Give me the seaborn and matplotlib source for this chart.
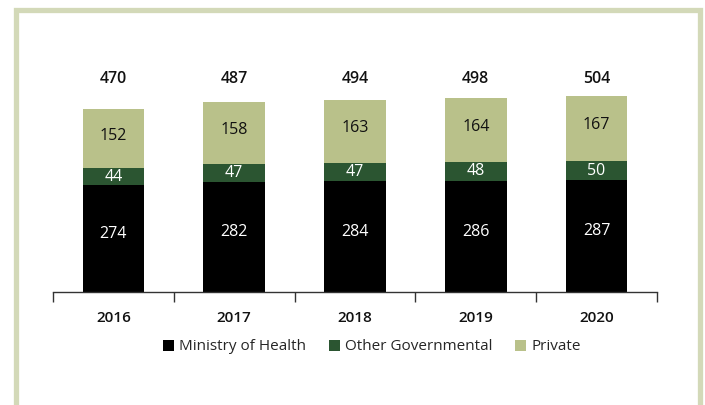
import matplotlib
matplotlib.use("Agg")
import matplotlib.pyplot as plt
from matplotlib.patches import Rectangle, Patch
from matplotlib.transforms import blended_transform_factory
import seaborn as sns
import pandas as pd
import numpy as np

years = ["2016", "2017", "2018", "2019", "2020"]
ministry = [274, 282, 284, 286, 287]
other_gov = [44, 47, 47, 48, 50]
private = [152, 158, 163, 164, 167]
totals = [470, 487, 494, 498, 504]

series_names = ["Ministry of Health", "Other Governmental", "Private"]
colors = ["#000000", "#2b5531", "#b9c18a"]
frame_color = "#d3d9b8"

sns.set_theme(style="white")
plt.rcParams["font.family"] = ["Open Sans", "DejaVu Sans"]

df = pd.DataFrame({
    "year": years,
    "ministry": ministry,
    "other": other_gov,
    "private": private,
})
df["lvl1"] = df["ministry"]
df["lvl2"] = df["ministry"] + df["other"]
df["lvl3"] = df["lvl2"] + df["private"]

fig = plt.figure(figsize=(7.05, 4.05), dpi=100)
ax = fig.add_axes([53 / 705, (405 - 292) / 405, (657 - 53) / 705, 218 / 405])

# stacked bars: draw cumulative heights back to front
for col, c in zip(["lvl3", "lvl2", "lvl1"], colors[::-1]):
    sns.barplot(data=df, x="year", y=col, order=years, color=c,
                width=0.51, saturation=1, ax=ax, linewidth=0)

ax.set_ylim(0, 560)
ax.set_xlim(-0.5, len(years) - 0.5)
ax.set_xlabel("")
ax.set_ylabel("")
ax.set_yticks([])
for s in ["top", "right", "left"]:
    ax.spines[s].set_visible(False)
ax.spines["bottom"].set_color("#333333")
ax.spines["bottom"].set_linewidth(1.0)

ax.set_xticks(range(len(years)))
ax.set_xticklabels(years, fontsize=11, fontweight="semibold", color="#111111")
ax.tick_params(axis="x", which="major", length=0, pad=14)
ax.set_xticks(np.arange(-0.5, len(years)), minor=True)
ax.tick_params(axis="x", which="minor", bottom=True, length=7, width=1.0,
               color="#333333", direction="out")

# segment labels
for i in range(len(years)):
    m, o, p = ministry[i], other_gov[i], private[i]
    ax.text(i, m / 2 + 12, f"{m}", ha="center", va="center",
            color="white", fontsize=11.5)
    ax.text(i, m + o / 2, f"{o}", ha="center", va="center",
            color="white", fontsize=11.5)
    ax.text(i, m + o + p / 2 + 8, f"{p}", ha="center", va="center",
            color="#111111", fontsize=11.5)

# totals above the stacks
trans = blended_transform_factory(ax.transData, ax.transAxes)
for i, t in enumerate(totals):
    ax.text(i, 0.975, f"{t}", transform=trans, ha="center", va="center",
            fontsize=11.5, fontweight="semibold", color="#111111")

handles = [Patch(facecolor=c, edgecolor="none") for c in colors]
fig.legend(handles, series_names, loc="center", bbox_to_anchor=(372 / 705, 1 - 347 / 405),
           ncol=3, frameon=False, fontsize=11, handlelength=0.7, handleheight=0.7,
           handletextpad=0.35, columnspacing=1.5)

# surrounding frame, open at the bottom
fig.add_artist(Rectangle((16 / 705, -0.1), (700 - 16) / 705, 1.1 - 10.5 / 405,
                         transform=fig.transFigure, fill=False,
                         edgecolor=frame_color, linewidth=3.8, clip_on=False,
                         joinstyle="miter"))

fig.savefig("out.png", dpi=100)
